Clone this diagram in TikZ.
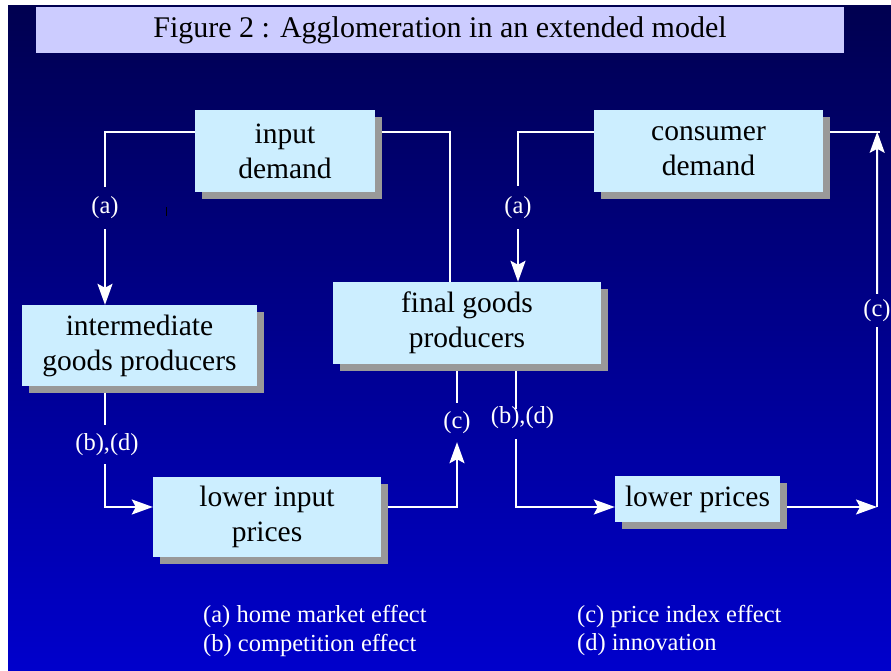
\documentclass[tikz,border=0pt]{standalone}
\usepackage{fontspec}
\setmainfont{Liberation Serif}
\usetikzlibrary{shadows,arrows.meta,calc,backgrounds}

\definecolor{boxblue}{HTML}{CCEEFF}
\definecolor{titlelilac}{HTML}{CCCCFF}
\definecolor{bgtop}{HTML}{000050}
\definecolor{bgbottom}{HTML}{0000CC}
\definecolor{shadowgray}{HTML}{999999}

\tikzset{
  effectbox/.style={fill=boxblue, inner sep=0pt, align=center,
    font=\fontsize{29.5}{35}\selectfont,
    drop shadow={shadow xshift=7pt, shadow yshift=-7pt, fill=shadowgray, opacity=1}},
  flow/.style={white, line width=2pt},
  flowarrow/.style={flow, -{Stealth[length=21pt, width=15pt, inset=4pt]}},
  tag/.style={text=white, inner sep=0pt, font=\fontsize{24.5}{29}\selectfont},
  legend/.style={text=white, inner sep=0pt, anchor=west, font=\fontsize{24.5}{29}\selectfont},
}

\begin{document}
\begin{tikzpicture}[x=1pt, y=-1pt]

  % Page and backdrop
  \useasboundingbox (0,0) rectangle (891,671);
  \begin{scope}[on background layer]
    \fill[white] (0,0) rectangle (891,671);
    \shade[top color=bgtop, bottom color=bgbottom] (8,6) rectangle (891,671);
  \end{scope}

  % Title bar
  \node[fill=titlelilac, minimum width=808pt, minimum height=46pt, inner sep=0pt,
        font=\fontsize{30}{36}\selectfont] (title) at (440,30)
        {Figure 2 : Agglomeration in an extended model};

  % Boxes
  \node[effectbox, minimum width=180pt, minimum height=82pt] (inp)   at (285,151)     {input\\demand};
  \node[effectbox, minimum width=229pt, minimum height=82pt] (cons)  at (708.5,151)   {consumer\\demand};
  \node[effectbox, minimum width=235pt, minimum height=81pt] (inter) at (139.5,345.5) {intermediate\\goods producers};
  \node[effectbox, minimum width=268pt, minimum height=82pt] (fin)   at (467,323)     {final goods\\producers};
  \node[effectbox, minimum width=228pt, minimum height=80pt] (lip)   at (267,517)     {lower input\\prices};
  \node[effectbox, minimum width=165pt, minimum height=46pt] (lp)    at (697.5,499)   {lower prices};

  % Effect tags sitting in the gaps of the lines
  \node[tag, minimum height=42pt] (a1)  at (105,208)     {(a)};
  \node[tag, minimum height=43pt] (a2)  at (518,207.5)   {(a)};
  \node[tag, minimum height=33pt] (c1)  at (877,310.5)   {(c)};
  \node[tag, minimum height=39pt] (bd1) at (107,444.5)   {(b),(d)};
  \node[tag, minimum height=39pt] (c2)  at (457,422.5)   {(c)};
  \node[tag]                      (bd2) at (522.5,418)   {(b),(d)};

  % Corner of the right hand loop
  \coordinate (rc) at (877,507);
  \coordinate (ct) at ($(cons.north east)+(54,22)$);

  \begin{scope}[on background layer]
    % demand side, top row
    \draw[flow] ($(inp.north west)+(0,22)$) -| (a1.north);
    \draw[flowarrow] (a1.south) -- (a1.south |- inter.north);
    \draw[flow] ($(inp.north east)+(0,22)$) -| ($(fin.north west)+(117,0)$);
    \draw[flow] ($(cons.north west)+(0,22)$) -| (a2.north);
    \draw[flowarrow] (a2.south) -- (a2.south |- fin.north);
    \draw[flow] ($(cons.north east)+(0,22)$) -- ++(57,0);

    % producers down to prices
    \draw[flow] (inter.south -| a1) -- (bd1.north -| a1);
    \draw[flowarrow] (bd1.south -| a1) |- (lip.west |- rc);
    \draw[flowarrow] (lip.east |- rc) -| (c2.south);
    \draw[flow] (c2.north) -- (c2.north |- fin.south);
    \draw[flow] ($(fin.south)+(49,0)$) -- ++(0,45);
    \draw[flowarrow] ($(fin.south)+(49,75)$) |- (lp.west |- rc);

    % lower prices back up to consumer demand
    \draw[flowarrow] (lp.east |- rc) -- (rc);
    \draw[flow] (rc) -- (c1.south);
    \draw[flowarrow] (c1.north) -- (ct);
  \end{scope}

  % small tick
  \draw[black, line width=1pt] (166.5,207) -- (166.5,216);

  % Key
  \node[legend] (ka) at (203,616) {(a) home market effect};
  \node[legend] (kb) at (203,645) {(b) competition effect};
  \node[legend] (kc) at (577,616) {(c) price index effect};
  \node[legend] (kd) at (577,645) {(d) innovation};

\end{tikzpicture}
\end{document}
